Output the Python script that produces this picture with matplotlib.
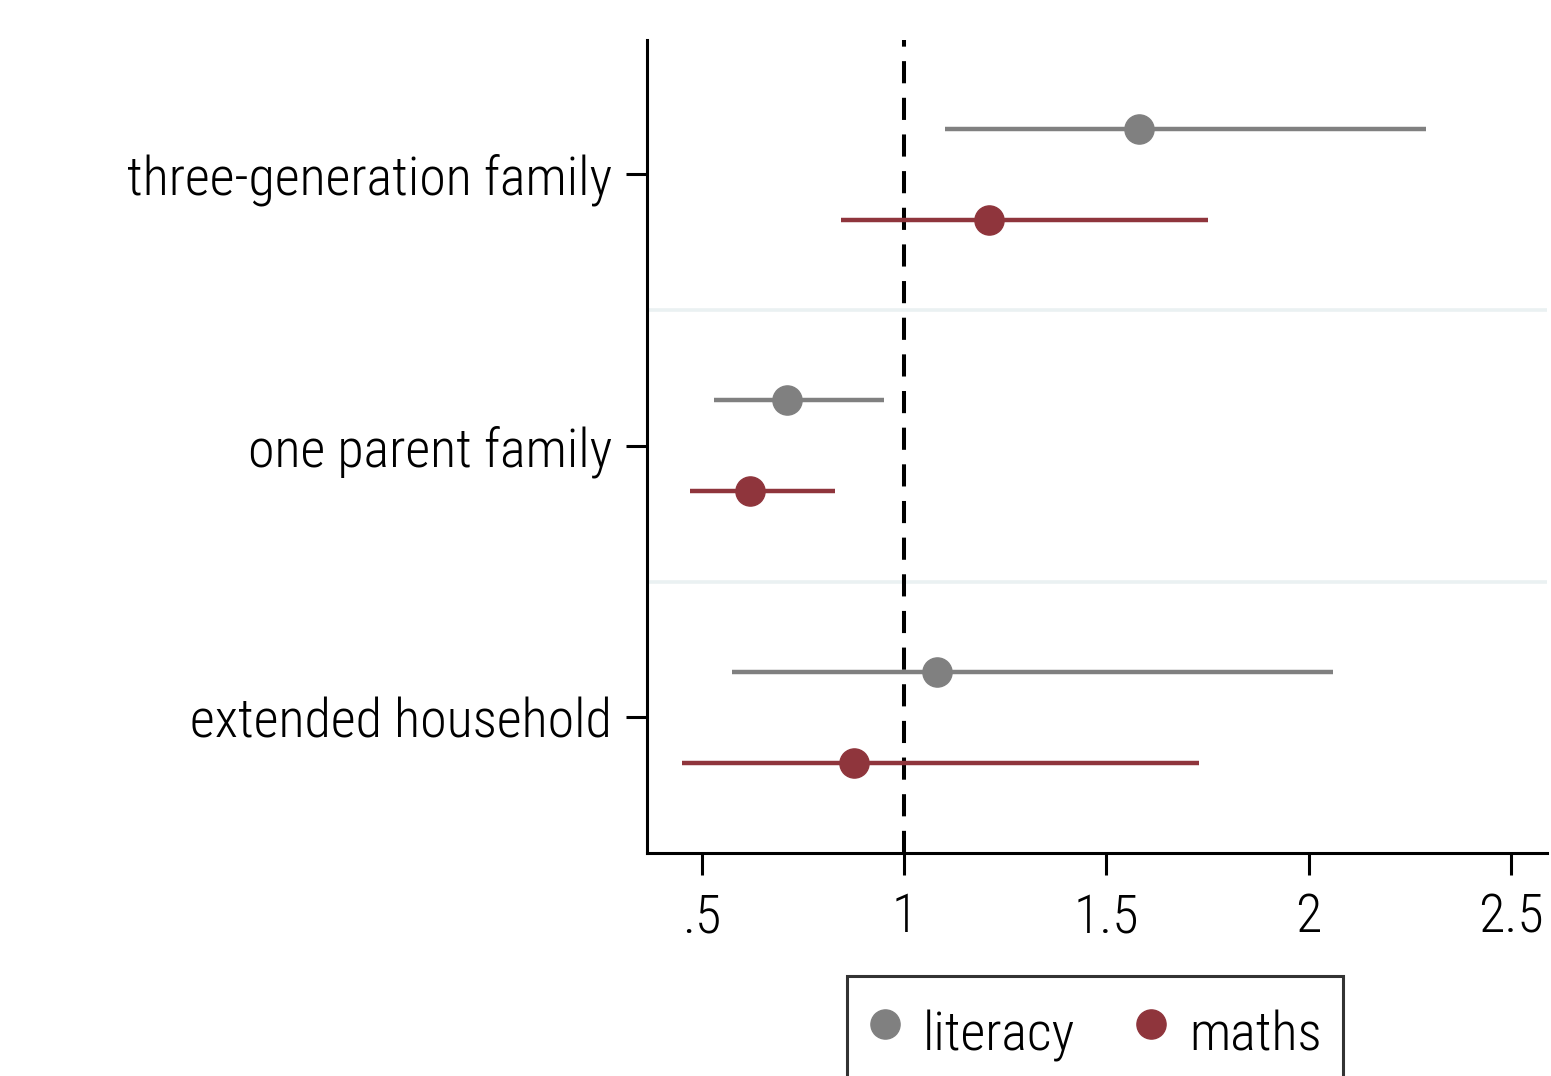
import matplotlib
matplotlib.use("Agg")
import matplotlib.pyplot as plt
from matplotlib import font_manager
from matplotlib.ticker import FixedLocator, FixedFormatter

# Pick a condensed sans if available
available = {f.name for f in font_manager.fontManager.ttflist}
family = ["DejaVu Sans"]
for cand in ["Roboto Condensed", "Liberation Sans Narrow", "Roboto"]:
    if cand in available:
        family = [cand, "DejaVu Sans"]
        break
plt.rcParams["font.family"] = family
plt.rcParams["font.weight"] = "light"

categories = ["three-generation family", "one parent family", "extended household"]

literacy_est = [1.58, 0.71, 1.08]
literacy_lo = [1.10, 0.53, 0.575]
literacy_hi = [2.29, 0.95, 2.06]

maths_est = [1.21, 0.62, 0.875]
maths_lo = [0.845, 0.47, 0.45]
maths_hi = [1.75, 0.83, 1.73]

xticks = [0.5, 1, 1.5, 2, 2.5]
xticklabels = [".5", "1", "1.5", "2", "2.5"]

gray = "#808080"
maroon = "#8f353c"

fig = plt.figure(figsize=(15.51, 10.76), dpi=100)
ax = fig.add_axes([0.4171, 0.2072, 0.5803, 0.7556])

offset = 0.168
ypos = list(range(len(categories)))

# separators between groups
for y in [0.5, 1.5]:
    ax.axhline(y, color="#eaf1f2", lw=2.6, zorder=0)

# reference line at 1
ax.axvline(1, color="black", lw=2.9, ls=(0, (5.5, 3.6)), zorder=1)

for est, lo, hi, col, off, lab in [
    (literacy_est, literacy_lo, literacy_hi, gray, -offset, "literacy"),
    (maths_est, maths_lo, maths_hi, maroon, offset, "maths"),
]:
    ys = [y + off for y in ypos]
    ax.hlines(ys, lo, hi, color=col, lw=3.2, zorder=2)
    ax.plot(est, ys, "o", color=col, ms=21, zorder=3, label=lab, lw=0)

ax.set_xlim(0.364, 2.589)
ax.set_ylim(2.5, -0.494)

ax.set_yticks(ypos)
ax.set_yticklabels(categories, fontsize=39)
ax.xaxis.set_major_locator(FixedLocator(xticks))
ax.xaxis.set_major_formatter(FixedFormatter(xticklabels))
ax.tick_params(axis="x", labelsize=39, length=16, width=2.2, pad=12)
ax.tick_params(axis="y", length=15, width=2.2, pad=10)

for s in ["top", "right"]:
    ax.spines[s].set_visible(False)
for s in ["left", "bottom"]:
    ax.spines[s].set_linewidth(2.2)

leg = ax.legend(loc="upper center", bbox_to_anchor=(0.498, -0.118), ncol=2,
                fontsize=39, frameon=True, fancybox=False, handletextpad=0.4,
                columnspacing=1.1, borderpad=0.4, handlelength=0.6,
                handleheight=1.6, markerscale=1.0)
leg.get_frame().set_edgecolor("black")
leg.get_frame().set_linewidth(2.2)

fig.savefig("out.png", dpi=100, facecolor="white")
